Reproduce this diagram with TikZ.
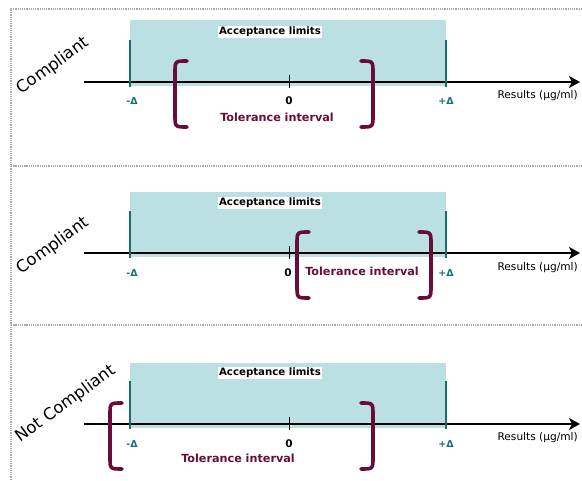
\documentclass[tikz,border=0pt]{standalone}
\usepackage{fontspec}
\setmainfont{DejaVu Sans}
\usetikzlibrary{arrows.meta}
\definecolor{accfill}{HTML}{BBE0E3}
\definecolor{limteal}{HTML}{16706F}
\definecolor{tolred}{HTML}{6A0C3A}
\tikzset{
  frame/.style={gray!65, line width=2pt, dash pattern=on 1.3pt off 0.9pt},
  axis/.style={line width=2.4pt, -{Stealth[length=11pt,width=12pt,inset=3pt]}},
  lim/.style={limteal, line width=1.4pt},
  tol/.style={tolred, line width=3.6pt, line cap=round, line join=round},
  acc/.style={fill=white, inner sep=1pt, font=\fontsize{10.2}{12}\selectfont\bfseries},
  tollab/.style={text=tolred, inner sep=1pt, font=\fontsize{11.2}{13}\selectfont\bfseries},
  limlab/.style={text=limteal, inner sep=1pt, font=\fontsize{9.5}{11}\selectfont\bfseries},
  zerolab/.style={inner sep=1pt, font=\fontsize{10.5}{12}\selectfont\bfseries},
  reslab/.style={anchor=east, inner sep=1pt, font=\fontsize{10.6}{12}\selectfont},
  verdict/.style={rotate=36, inner sep=0pt, font=\fontsize{16.5}{19}\selectfont}
}
\begin{document}
\begin{tikzpicture}[x=1pt, y=-1pt, line join=round]
	\useasboundingbox (0,0) rectangle (582,481);
	% dotted frames
	\draw[frame] (582,9) -- (11,9) -- (11,481);
	\draw[frame] (11,166) -- (582,166);
	\draw[frame] (11,325) -- (582,325);
	% first case
	\begin{scope}[shift={(0,82)}]
		\fill[accfill] (130,-62) rectangle (446,4);
		\node[acc] (acc1) at (270,-50) {Acceptance limits};
		\coordinate (ax1) at (84,0);
		\coordinate (ay1) at (580,0);
		\draw[axis] (ax1) -- (ay1);
		\draw[lim] (130,-42) coordinate (lmt1) -- (130,5) coordinate (lmb1);
		\draw[lim] (446,-42) coordinate (lpt1) -- (446,5) coordinate (lpb1);
		\draw[line width=1pt] (289,-7) coordinate (zt1) -- (289,6) coordinate (zb1);
		\node[limlab] (lm1) at (132,19) {-Δ};
		\node[limlab] (lp1) at (446,19) {+Δ};
		\node[zerolab] (z1) at (289,19) {0};
		\node[reslab] (r1) at (579,14) {Results (µg/ml)};
		\node[tollab] (t1) at (277,35) {Tolerance interval};
		\draw[tol] (187,-21) .. controls (175,-21) .. (175,-9) -- (175,33) .. controls (175,45) .. (187,45);
		\draw[tol] (361,-21) .. controls (373,-21) .. (373,-9) -- (373,33) .. controls (373,45) .. (361,45);
		\node[verdict] (v1) at (53,-16) {Compliant};
	\end{scope}
	% second case
	\begin{scope}[shift={(0,253)}]
		\fill[accfill] (130,-61) rectangle (446,4);
		\node[acc] (acc2) at (270,-50) {Acceptance limits};
		\coordinate (ax2) at (84,0);
		\coordinate (ay2) at (580,0);
		\draw[axis] (ax2) -- (ay2);
		\draw[lim] (130,-42) coordinate (lmt2) -- (130,5) coordinate (lmb2);
		\draw[lim] (446,-42) coordinate (lpt2) -- (446,5) coordinate (lpb2);
		\draw[line width=1pt] (289,-7) coordinate (zt2) -- (289,6) coordinate (zb2);
		\node[limlab] (lm2) at (132,20) {-Δ};
		\node[limlab] (lp2) at (446,20) {+Δ};
		\node[zerolab] (z2) at (288,20) {0};
		\node[reslab] (r2) at (579,15) {Results (µg/ml)};
		\node[tollab] (t2) at (362,18) {Tolerance interval};
		\draw[tol] (309,-21) .. controls (297,-21) .. (297,-9) -- (297,33) .. controls (297,45) .. (309,45);
		\draw[tol] (419,-21) .. controls (431,-21) .. (431,-9) -- (431,33) .. controls (431,45) .. (419,45);
		\node[verdict] (v2) at (53,-7) {Compliant};
	\end{scope}
	% third case
	\begin{scope}[shift={(0,424)}]
		\fill[accfill] (130,-61) rectangle (446,4);
		\node[acc] (acc3) at (270,-51) {Acceptance limits};
		\coordinate (ax3) at (84,0);
		\coordinate (ay3) at (580,0);
		\draw[axis] (ax3) -- (ay3);
		\draw[lim] (130,-43) coordinate (lmt3) -- (130,5) coordinate (lmb3);
		\draw[lim] (446,-43) coordinate (lpt3) -- (446,5) coordinate (lpb3);
		\draw[line width=1pt] (289,-7) coordinate (zt3) -- (289,6) coordinate (zb3);
		\node[limlab] (lm3) at (132,20) {-Δ};
		\node[limlab] (lp3) at (446,20) {+Δ};
		\node[zerolab] (z3) at (289,20) {0};
		\node[reslab] (r3) at (579,14) {Results (µg/ml)};
		\node[tollab] (t3) at (238,34) {Tolerance interval};
		\draw[tol] (122,-21) .. controls (110,-21) .. (110,-9) -- (110,33) .. controls (110,45) .. (122,45);
		\draw[tol] (361,-21) .. controls (373,-21) .. (373,-9) -- (373,33) .. controls (373,45) .. (361,45);
		\node[verdict] (v3) at (66,-20) {Not Compliant};
	\end{scope}
\end{tikzpicture}
\end{document}
